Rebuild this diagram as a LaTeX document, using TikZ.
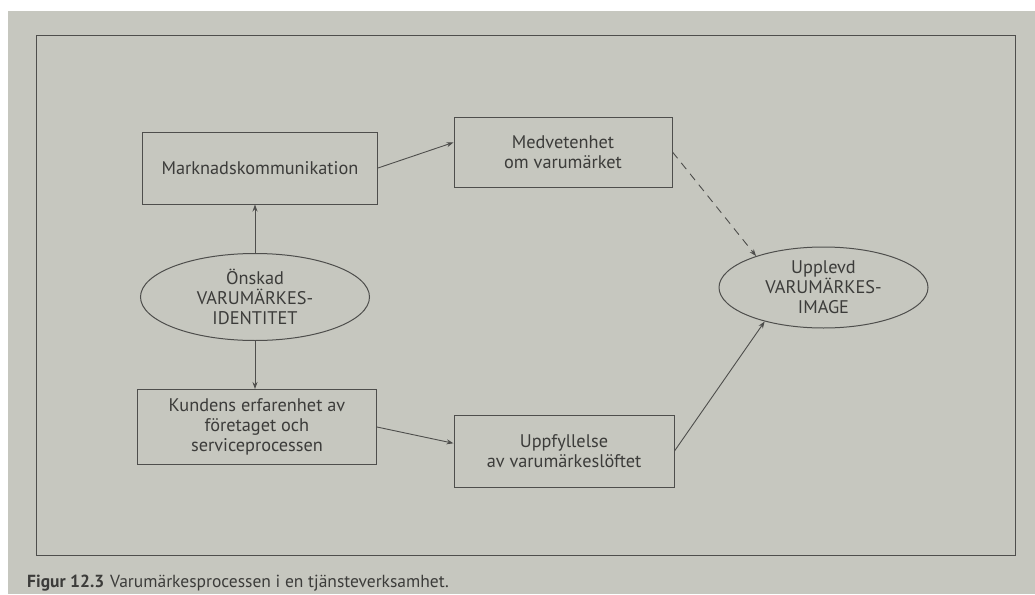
\documentclass[tikz,border=0pt]{standalone}
\usepackage{fontspec}
\setmainfont{PT Sans}
\usetikzlibrary{arrows.meta,shapes.geometric}
\definecolor{pagegrey}{RGB}{198,199,191}
\definecolor{ink}{RGB}{60,60,58}
\definecolor{linec}{RGB}{78,78,76}
\begin{document}
\begin{tikzpicture}[x=1pt,y=-1pt,
  box/.style={draw=linec, line width=1pt, fill=pagegrey, rectangle, inner sep=0pt, align=center, text=ink, font=\fontsize{18.3}{20}\selectfont},
  oval/.style={draw=linec, line width=1pt, fill=pagegrey, ellipse, inner sep=0pt, align=center, text=ink, font=\fontsize{18.3}{20}\selectfont},
  conn/.style={draw=linec, line width=0.9pt, -{Stealth[length=7pt,width=5pt]}},
  dashconn/.style={conn, dash pattern=on 8pt off 6pt}
]
\useasboundingbox (0,0) rectangle (1035,594);
\fill[white] (0,0) rectangle (1035,594);
\fill[pagegrey] (8,11) rectangle (1035,594);
\draw[linec, line width=1pt] (36,36) rectangle (1015,555);
\node[box, minimum width=235pt, minimum height=72pt] (mk) at (260,168) {Marknadskommunikation};
\node[box, minimum width=218pt, minimum height=70pt] (med) at (563,152) {Medvetenhet\\om varumärket};
\node[oval, minimum width=229pt, minimum height=87pt] (ons) at (255,297) {Önskad\\VARUMÄRKES-\\IDENTITET};
\node[oval, minimum width=209pt, minimum height=81pt] (upl) at (823.5,287.5) {Upplevd\\VARUMÄRKES-\\IMAGE};
\node[box, minimum width=239pt, minimum height=75pt] (kd) at (257,427) {Kundens erfarenhet av\\företaget och\\serviceprocessen};
\node[box, minimum width=220pt, minimum height=72pt] (upp) at (564,451) {Uppfyllelse\\av varumärkeslöftet};
\draw[conn] (ons.north) -- (ons.north |- mk.south);
\draw[conn] (ons.south) -- (ons.south |- kd.north);
\draw[conn] (mk.east) -- (med.175);
\draw[conn] (kd.east) -- (upp.176);
\draw[dashconn] (med.east) -- (upl.155);
\draw[conn] (upp.east) -- (upl.210);
\node[anchor=base west, inner sep=0pt, text=ink, font=\fontsize{17.5}{20}\selectfont] (cap) at (27,587) {\textbf{Figur 12.3}\hspace{6pt}Varumärkesprocessen i en tjänsteverksamhet.};
\end{tikzpicture}
\end{document}
